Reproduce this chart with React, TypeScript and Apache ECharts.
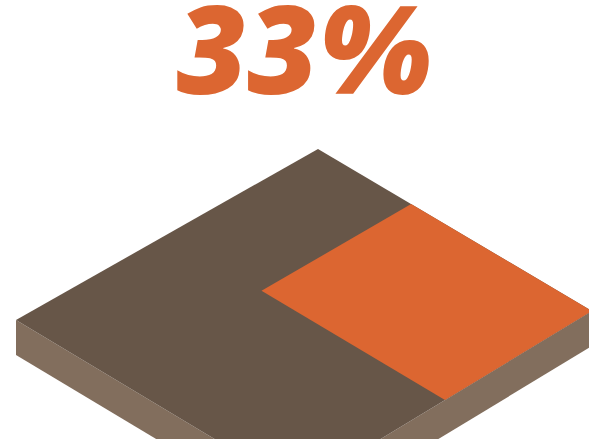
import React, { useEffect, useRef } from "react";
import * as echarts from "echarts";

// ---- data ----
const categories = ["Share", "Remainder"];
const values = [33, 67];
const labelSuffix = "%";

// ---- layout / style constants ----
const W = 589;
const H = 439;
const DEPTH = 0.5; // share occupies half of the depth axis
const CORNER_T = [318, 149];
const CORNER_R = [592, 311];
const CORNER_B = [298, 489];
const CORNER_L = [16, 320];
const THICK = 35;
const COLOR_TOP = "#675648";
const COLOR_SIDE = "#826e5d";
const COLOR_SHARE = "#dc6631";

function bilinear(s: number, t: number): number[] {
  const a = (1 - s) * (1 - t), b = s * (1 - t), c = (1 - s) * t, d = s * t;
  return [
    a * CORNER_T[0] + b * CORNER_R[0] + c * CORNER_L[0] + d * CORNER_B[0],
    a * CORNER_T[1] + b * CORNER_R[1] + c * CORNER_L[1] + d * CORNER_B[1],
  ];
}

export default function App() {
  const ref = useRef<HTMLDivElement>(null);
  useEffect(() => {
    if (!ref.current) return;
    const chart = echarts.init(ref.current, null, { renderer: "svg" });
    const shareSpan = values[0] / 100 / DEPTH;
    // items: [s0, s1, t0, t1, kind] kind 0 = whole slab, 1 = share
    const items = [
      [0, 1, 0, 1, 0],
      [1 - shareSpan, 1, 0, DEPTH, 1],
    ];
    chart.setOption({
      animation: false,
      grid: { left: 0, right: 0, top: 0, bottom: 0 },
      xAxis: { type: "value", min: 0, max: W, show: false },
      yAxis: { type: "value", min: 0, max: H, inverse: true, show: false },
      graphic: [
        {
          type: "text",
          x: 304,
          y: 47,
          style: {
            text: `${values[0]}${labelSuffix}`,
            fill: COLOR_SHARE,
            fontSize: 122,
            lineHeight: 88,
            fontWeight: 800,
            fontStyle: "italic",
            fontFamily: "'Open Sans', 'Noto Sans', sans-serif",
            align: "center",
            verticalAlign: "middle",
          },
        },
      ],
      series: [
        {
          type: "custom",
          name: categories.join("/"),
          coordinateSystem: "cartesian2d",
          data: items,
          renderItem: (params: any, api: any) => {
            const s0 = api.value(0), s1 = api.value(1), t0 = api.value(2), t1 = api.value(3);
            const kind = api.value(4);
            const toPx = (p: number[]) => api.coord(p);
            const p00 = bilinear(s0, t0), p10 = bilinear(s1, t0), p11 = bilinear(s1, t1), p01 = bilinear(s0, t1);
            const top = [p00, p10, p11, p01].map(toPx);
            if (kind === 1) {
              return { type: "polygon", shape: { points: top }, style: { fill: COLOR_SHARE } };
            }
            const down = (p: number[]) => [p[0], p[1] + THICK];
            const left = [p01, p11, down(p11), down(p01)].map(toPx);
            const right = [p11, p10, down(p10), down(p11)].map(toPx);
            return {
              type: "group",
              children: [
                { type: "polygon", shape: { points: left }, style: { fill: COLOR_SIDE } },
                { type: "polygon", shape: { points: right }, style: { fill: COLOR_SIDE } },
                { type: "polygon", shape: { points: top }, style: { fill: COLOR_TOP } },
              ],
            };
          },
        },
      ],
    });
    return () => chart.dispose();
  }, []);
  return (
    <div
      ref={ref}
      style={{ position: "fixed", left: 0, top: 0, width: W, height: H }}
    />
  );
}
